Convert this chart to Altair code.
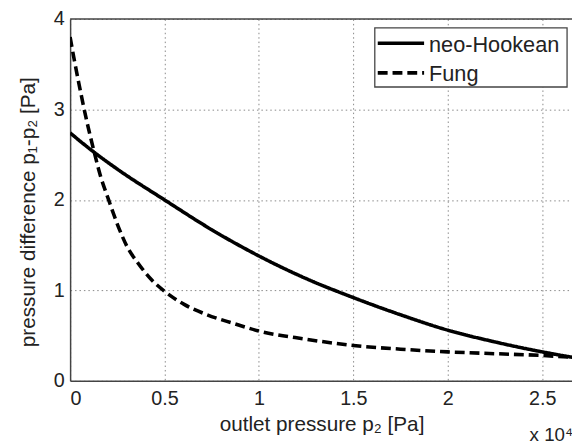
import altair as alt
import pandas as pd

# ---- data (x in units of 1e4 Pa) ----
series_names = ["neo-Hookean", "Fung"]

x_neo = [0, 0.125, 0.25, 0.5, 0.75, 1.0, 1.25, 1.5, 1.75, 2.0, 2.25, 2.5, 2.66]
y_neo = [2.74, 2.53, 2.34, 2.0, 1.67, 1.38, 1.13, 0.92, 0.73, 0.56, 0.43, 0.32, 0.26]

x_fung = [0, 0.02, 0.05, 0.085, 0.125, 0.16, 0.204, 0.256, 0.30, 0.36, 0.43, 0.5, 0.604,
          0.726, 0.865, 1.0, 1.25, 1.5, 1.75, 2.0, 2.25, 2.5, 2.66]
y_fung = [3.8, 3.57, 3.25, 2.9, 2.55, 2.27, 2.0, 1.70, 1.49, 1.30, 1.12, 0.99, 0.845,
          0.73, 0.635, 0.55, 0.46, 0.39, 0.35, 0.32, 0.30, 0.28, 0.26]

x_ticks = [0, 0.5, 1, 1.5, 2, 2.5]
y_ticks = [0, 1, 2, 3, 4]

df = pd.concat([
    pd.DataFrame({"x": x_neo, "y": y_neo, "series": series_names[0], "order": range(len(x_neo))}),
    pd.DataFrame({"x": x_fung, "y": y_fung, "series": series_names[1], "order": range(len(x_fung))}),
])

W, H = 509, 367
FONT = "Liberation Sans"
TXT = "#222222"
dashes = {"neo-Hookean": [1, 0], "Fung": [10, 5]}

xscale = alt.Scale(domain=[0, 2.658], nice=False, zero=False)
yscale = alt.Scale(domain=[0, 4], nice=False)

lines = alt.Chart(df).mark_line(color="black", strokeWidth=3.6, interpolate="monotone", clip=True).encode(
    x=alt.X("x:Q", scale=xscale,
            axis=alt.Axis(values=x_ticks, format="~g", title="outlet pressure p₂ [Pa]",
                          grid=True, ticks=False, labelPadding=8,
                          titleX=255, titleY=50, titleBaseline="alphabetic", titleAlign="center")),
    y=alt.Y("y:Q", scale=yscale,
            axis=alt.Axis(values=y_ticks, format="~g", title="pressure difference p₁-p₂ [Pa]",
                          grid=True, ticks=False, labelPadding=6,
                          titleX=-42, titleY=H / 2 + 12, titleAngle=270, titleBaseline="middle",
                          titleAlign="center")),
    strokeDash=alt.StrokeDash("series:N",
                              scale=alt.Scale(domain=series_names,
                                              range=[dashes[s] for s in series_names]),
                              legend=None),
    detail="series:N",
    order="order:Q",
)

one = alt.Data(values=[{"k": 0}])

top_border = alt.Chart(one).mark_rule(color="#444444", strokeWidth=1.5).encode(
    x=alt.value(0), x2=alt.value(W), y=alt.value(0)
)

# manual legend (MATLAB style)
legend_box = alt.Chart(one).mark_rect(fill="white", stroke="#444444", strokeWidth=1.3).encode(
    x=alt.value(309), x2=alt.value(504), y=alt.value(9), y2=alt.value(69)
)
legend_layers = [legend_box]
for i, name in enumerate(series_names):
    yy = 24.7 + 30 * i
    legend_layers.append(
        alt.Chart(alt.Data(values=[{"label": name}])).mark_rule(
            color="black", strokeWidth=3.6, strokeDash=dashes[name]).encode(
            x=alt.value(312), x2=alt.value(359), y=alt.value(yy)
        )
    )
    legend_layers.append(
        alt.Chart(alt.Data(values=[{"label": name}])).mark_text(
            align="left", baseline="alphabetic", font=FONT, fontSize=22, color=TXT).encode(
            text="label:N", x=alt.value(364), y=alt.value(34 + 29 * i)
        )
    )

exponent = alt.Chart(alt.Data(values=[{"t": "x 10⁴"}])).mark_text(
    align="left", baseline="alphabetic", font=FONT, fontSize=19, color=TXT).encode(
    text="t:N", x=alt.value(466), y=alt.value(428)
)

chart = alt.layer(lines, top_border, *legend_layers, exponent).properties(
    width=W, height=H,
    autosize=alt.AutoSizeParams(type="none"),
    padding={"left": 63, "top": 8, "right": 0, "bottom": 64},
    background="white",
).configure_view(stroke=None).configure_axis(
    labelFont=FONT, titleFont=FONT, labelFontSize=20, titleFontSize=21,
    labelColor=TXT, titleColor=TXT, titleFontWeight="normal",
    domainColor="#444444", domainWidth=1.5,
    gridColor="#888888", gridDash=[1.5, 3], gridWidth=1,
)

chart.save("out.html", embed_options={"renderer": "svg", "actions": False})
